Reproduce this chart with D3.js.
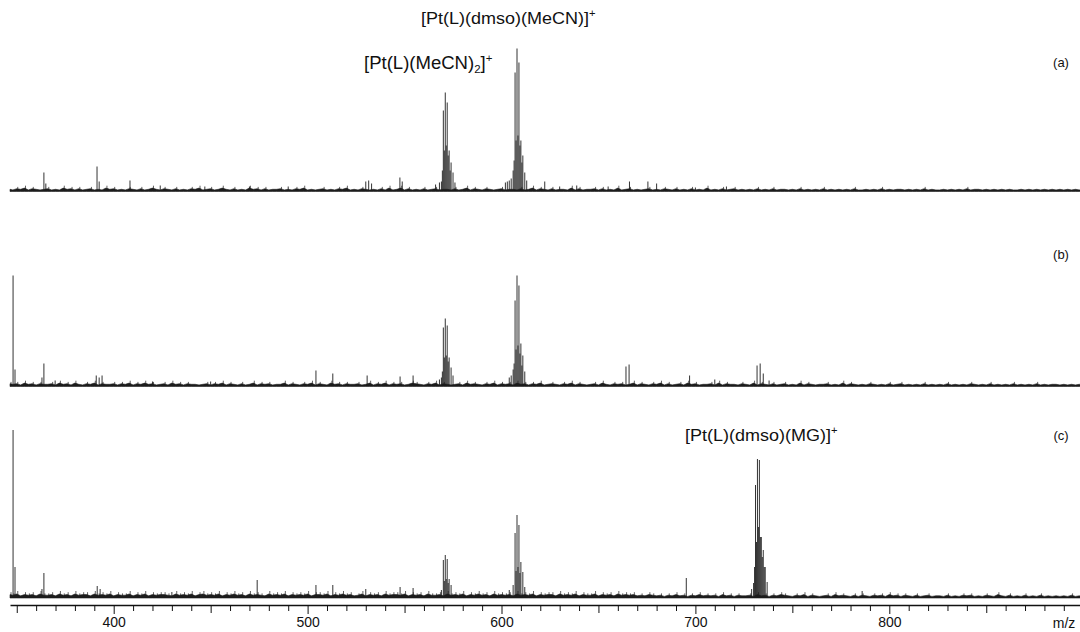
<!DOCTYPE html>
<html><head><meta charset="utf-8">
<script src="https://cdn.jsdelivr.net/npm/d3@7"></script>
<style>
body{margin:0;background:#fff}
svg{display:block}
text{font-family:"Liberation Sans",Arial,Helvetica,sans-serif;fill:#111}
</style>
</head><body>
<svg id="chart" width="1080" height="632"></svg>
<script>
// ESI mass spectra (a)-(c): resolved peaks as [m/z, intensity] (arbitrary counts)
const peaksA = [[364,18],[365,7],[391.4,24],[392.5,9],[408.4,10],[424,5],[447,4],[470,4],[490,4],
  [530,9],[531.5,10],[533,7],[547.6,13],[548.8,9],[566,6],[568,8],[569,9],
  [569.5,20],[570,80],[570.5,40],[571,98],[571.5,45],[572,88],[572.5,35],[573,40],[573.5,20],[574,28],[575,18],[576,8],
  [602,8],[603,9],[604,10],[605,12],[606,20],[606.5,30],[607,118],[607.5,50],[608,142],[608.5,55],
  [609,128],[609.5,45],[610,50],[610.5,28],[611,35],[612,18],[613,10],
  [622.3,9],[630,4],[638.8,5],[655,4],[666,9],[675.5,9],[680,7],[700,3],[716,4]];
const peaksB = [[348.1,110],[349.1,16],[363,8],[364,22],[369.8,5],[391,10],[392.5,8],[394,10],[420,4],[450,4],
  [504.3,15],[513,12],[530.7,10],[547.7,9],[554.4,10],
  [568,6],[569,8],[569.5,14],[570,58],[570.5,28],[571,67],[571.5,30],[572,60],[572.5,24],[573,28],[574,18],[575,10],
  [604,8],[605,10],[606,16],[606.5,22],[607,85],[607.5,36],[608,110],[608.5,40],[609,100],[609.5,32],
  [610,42],[610.5,20],[611,30],[612,14],
  [664.2,19],[665.8,21],[697,10],[710,6],[731.8,20],[733.4,22],[735,12],[738,5]];
const peaksC = [[348.1,167],[349.1,30],[363,8],[364,24],[391.5,11],[393,8],[430,5],[474,17],
  [504.3,12],[513,12],[530,8],[547.7,10],[554.4,9],
  [569,7],[570,37],[570.5,16],[571,42],[571.5,18],[572,38],[572.5,14],[573,18],[574,12],
  [604,7],[606,12],[607,64],[607.5,26],[608,82],[608.5,30],[609,72],[609.5,24],[610,35],[611,25],[612,10],
  [695.3,19],[729,8],[730,14],[730.5,30],[731,112],[731.5,55],[732,138],[732.5,70],[733,137],[733.5,60],
  [734,60],[734.5,40],[735,47],[735.5,30],[736,30],[737,15],[786,6]];

// baseline noise heights, one value every 2 m/z starting at m/z 346
const noiseStart = 346, noiseStep = 2;
const noiseA = "2132413212 3121423131 2312142312 1321312421 3213121324 1231242131 2142313122 3121324121 2312132412 1321213141 2413121312 3122131241 3213212312 2131241321 3122141312 2313121412 3121231213 2131213121 4121312312 1213121312 2121312121 3121212131 1212131212 2121213121 1212121312 2121212121 1212121212 1212121212";
const noiseB = "3231423132 2314231421 3241322313 2413242312 3142313221 2313241321 3124132312 2413213241 3214231322 3124132413 2312432132 4132123142 3213241323 1423132412 3213241321 2314213231 2413213241 3123142312 2314132213 2141321312 3121413212 2312141321 2132121312 3121213121 2131212132 1213121213 1212131212 2121212121";
const noiseC = "4352434253 3425342534 4253435243 3524352434 4325343524 5343524353 4253432534 3524343524 4352435342 3524342534 4352434253 3425343524 3534253434 2534352434 4253435243 3524342534 3423243231 3242313242 3231423132 2314231324 3213241321 2314232131 3213231423 1321312312 2131213231 2132142131 2131213121 2121312121";

const panelLabels = ["(a)", "(b)", "(c)"];
const majorTicks = [400, 500, 600, 700, 800];
const axisTitle = "m/z";

const svg = d3.select("#chart");
const x = d3.scaleLinear().domain([400, 800]).range([113.7, 889.3]);
const mzMin = x.invert(10), mzMax = x.invert(1080);
const ink = "#1c1c1c";

const panels = [
  {label: panelLabels[0], base: 190.5, peaks: peaksA, noise: noiseA, ly: 62},
  {label: panelLabels[1], base: 385.5, peaks: peaksB, noise: noiseB, ly: 254},
  {label: panelLabels[2], base: 597,   peaks: peaksC, noise: noiseC, ly: 435}
];

panels.forEach(p => {
  const y = d3.scaleLinear().domain([0, 150]).range([p.base, p.base - 150]);
  const g = svg.append("g");
  const noise = p.noise.replace(/\s/g, "").split("").map((c, i) => [noiseStart + i * noiseStep, +c]);
  noise[0][0] = mzMin;
  // noisy baseline: filled band plus the taller noise spikes
  g.append("path")
    .datum(noise)
    .attr("fill", ink)
    .attr("stroke", ink).attr("stroke-width", 0.6)
    .attr("d", d3.area().x(d => x(d[0])).y0(y(0) + 1).y1(d => y(d[1] * 0.6)));
  g.selectAll("line.ns").data(noise.filter(d => d[1] >= 3)).join("line")
    .attr("class", "ns")
    .attr("x1", d => x(d[0]) + 1).attr("x2", d => x(d[0]) + 1)
    .attr("y1", y(0)).attr("y2", d => y(d[1] * 1.2))
    .attr("stroke", ink).attr("stroke-width", 0.7);
  g.selectAll("line.pk").data(p.peaks).join("line")
    .attr("class", "pk")
    .attr("x1", d => x(d[0])).attr("x2", d => x(d[0]))
    .attr("y1", y(0)).attr("y2", d => y(d[1]))
    .attr("stroke", ink).attr("stroke-width", 0.9);
  svg.append("text").attr("x", 1061).attr("y", p.ly).attr("dy", "0.35em")
    .attr("text-anchor", "middle").style("font-size", "13px").text(p.label);
});

// ion annotations
function ion(xp, yp, parts, size) {
  const t = svg.append("text")
    .attr("transform", `translate(${xp},${yp}) scale(1.06,1)`)
    .style("font-size", size + "px");
  parts.forEach(([s, kind]) => {
    const ts = t.append("tspan").text(s);
    if (kind === "sup") ts.attr("dy", -size * 0.4).style("font-size", (size * 0.62) + "px");
    if (kind === "sub") ts.attr("dy", size * 0.25).style("font-size", (size * 0.62) + "px");
    if (kind === "back") ts.attr("dy", -size * 0.25);
  });
}
ion(421, 24, [["[Pt(L)(dmso)(MeCN)]"], ["+", "sup"]], 17);
ion(364, 69, [["[Pt(L)(MeCN)"], ["2", "sub"], ["]", "back"], ["+", "sup"]], 17.5);
ion(685, 441, [["[Pt(L)(dmso)(MG)]"], ["+", "sup"]], 17);

// m/z axis
const xa = x.copy().domain([mzMin, mzMax]).range([10, 1080]);
const axis = d3.axisBottom(xa)
  .tickValues(d3.range(350, 900, 10))
  .tickSizeOuter(0)
  .tickFormat(d => majorTicks.includes(d) ? d : "");
const ga = svg.append("g").attr("transform", "translate(0,605)").call(axis);
ga.select(".domain").attr("stroke", "#111").attr("stroke-width", 1.3);
ga.selectAll(".tick line").attr("stroke", "#111")
  .attr("y2", d => d % 100 === 0 ? 9 : d % 50 === 0 ? 8 : 6);
ga.selectAll(".tick text").attr("y", 12).style("font-size", "14px")
  .style("font-family", '"Liberation Sans",Arial,sans-serif').attr("fill", "#111");
svg.append("text").attr("x", 1064).attr("y", 623).attr("dy", "0.35em")
  .attr("text-anchor", "middle").style("font-size", "14px").text(axisTitle);
</script>
</body></html>
